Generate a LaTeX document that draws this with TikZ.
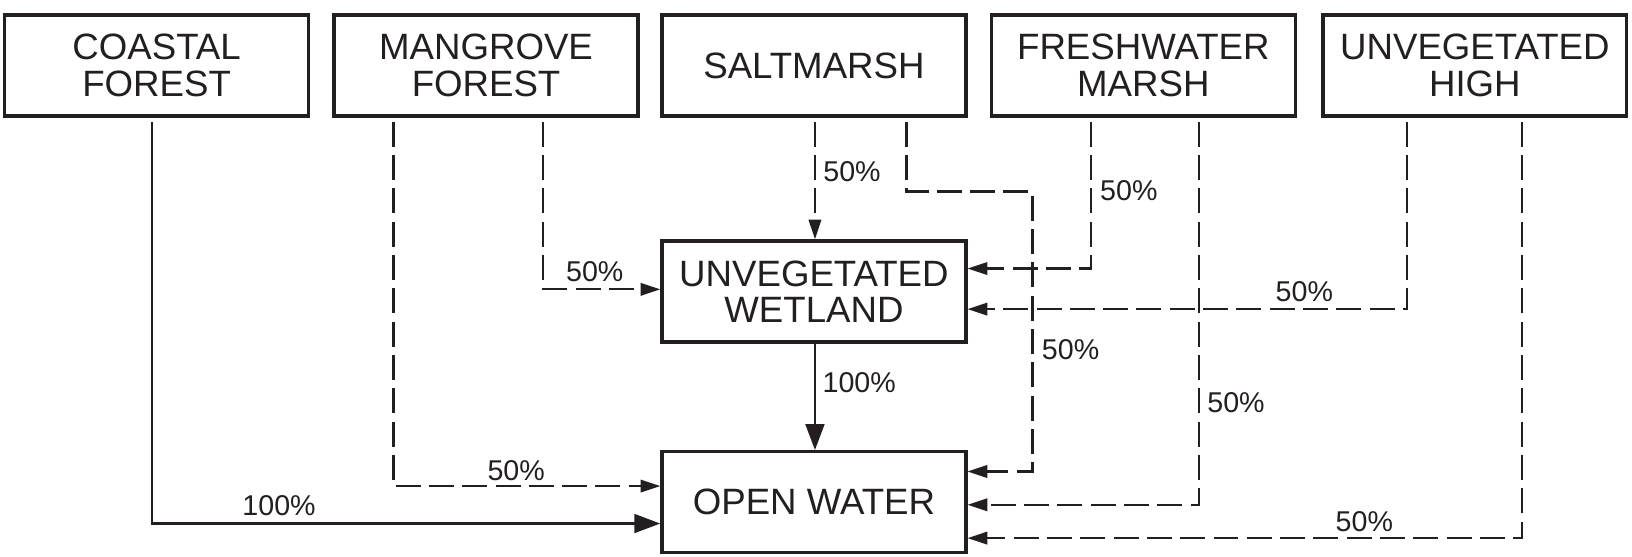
\documentclass[tikz,border=0pt]{standalone}
\usepackage{fontspec}
\setmainfont{Liberation Sans}
\usetikzlibrary{arrows.meta}
\definecolor{ink}{RGB}{35,31,32}
\begin{document}
\begin{tikzpicture}[x=1pt,y=-1pt,
  box/.style={draw=ink, line width=3.2pt, minimum width=292pt, minimum height=97pt, inner sep=0pt, align=center, text=ink, font=\fontsize{35.2}{35}\selectfont},
  dline/.style={draw=ink, line width=2.1pt, dash pattern=on 24pt off 8pt, -{Triangle[length=19pt,width=12pt]}},
  sline/.style={draw=ink, line width=2.7pt, -{Triangle[length=25pt,width=18pt]}},
  pct/.style={text=ink, inner sep=0pt, font=\fontsize{27.5}{30}\selectfont},
]
\fill[white] (0,0) rectangle (1568,535);
\useasboundingbox (0,0) rectangle (1568,535);

\node[box] (coast) at (150.5,63) {COASTAL\\FOREST};
\node[box] (mang) at (467,63) {MANGROVE\\FOREST};
\node[box] (salt) at (782,63) {SALTMARSH};
\node[box] (fresh) at (1098.5,63) {FRESHWATER\\MARSH};
\node[box] (high) at (1417,63) {UNVEGETATED\\HIGH};
\node[box] (uw) at (782,280) {UNVEGETATED\\WETLAND};
\node[box] (ow) at (782,482.5) {OPEN WATER};

\coordinate (sbend) at (992,184);

\draw[sline] ([xshift=-4.5pt,yshift=-4pt]coast.south) |- node[pos=0.625,above=6pt,pct]{100\%} ([yshift=-20.5pt]ow.west);
\draw[dline] ([xshift=-89pt,yshift=-4pt]mang.south) |- node[pos=0.73,above=4pt,pct]{50\%} ([yshift=15.5pt]ow.west);
\draw[dline] ([xshift=55pt,yshift=-4pt]mang.south) |- node[pos=0.72,above=6pt,pct]{50\%} ([yshift=2pt]uw.west);
\draw[dline] ([xshift=1pt,yshift=-4pt]salt.south) -- node[pos=0.42,right=7pt,pct]{50\%} ([xshift=1pt]uw.north);
\draw[dline] ([xshift=89pt,yshift=-4pt]salt.south) |- (sbend) |- node[pos=0.283,right=8pt,pct]{50\%} ([yshift=29.5pt]ow.east);
\draw[dline] ([xshift=-50.5pt,yshift=-4pt]fresh.south) |- node[pos=0.234,right=8pt,pct]{50\%} ([yshift=22pt]uw.east);
\draw[dline] ([xshift=53.5pt,yshift=-4pt]fresh.south) |- node[pos=0.367,right=7pt,pct]{50\%} ([yshift=-2.5pt]ow.east);
\draw[dline] ([xshift=-65pt,yshift=-4pt]high.south) |- node[pos=0.617,above=6pt,pct]{50\%} ([yshift=-17pt]uw.east);
\draw[dline] ([xshift=45pt,yshift=-4pt]high.south) |- node[pos=0.642,above=5pt,pct]{50\%} ([yshift=-34.5pt]ow.east);
\draw[sline] ([xshift=1pt]uw.south) -- node[pos=0.37,right=6pt,pct]{100\%} ([xshift=1pt]ow.north);
\end{tikzpicture}
\end{document}
